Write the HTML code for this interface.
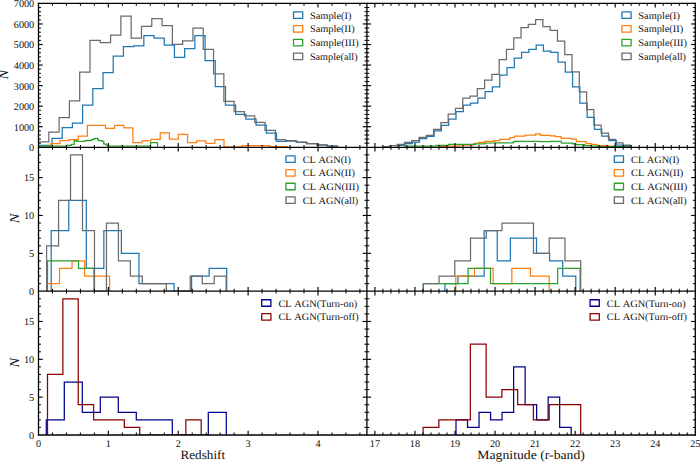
<!DOCTYPE html>
<html><head><meta charset="utf-8"><title>Histograms</title>
<style>
html,body{margin:0;padding:0;background:#fff;overflow:hidden;}
body{width:700px;height:463px;}
svg{display:block;font-family:"Liberation Serif", serif;text-rendering:geometricPrecision;}
</style></head><body>
<svg width="700" height="463" viewBox="0 0 700 463">
<defs><clipPath id="cL0"><rect x="38.5" y="3.4" width="328.4" height="143.9"/></clipPath><clipPath id="cR0"><rect x="366.9" y="3.4" width="328.4" height="143.9"/></clipPath><clipPath id="cL1"><rect x="38.5" y="147.3" width="328.4" height="143.9"/></clipPath><clipPath id="cR1"><rect x="366.9" y="147.3" width="328.4" height="143.9"/></clipPath><clipPath id="cL2"><rect x="38.5" y="291.2" width="328.4" height="143.8"/></clipPath><clipPath id="cR2"><rect x="366.9" y="291.2" width="328.4" height="143.8"/></clipPath></defs>
<rect x="0" y="0" width="700" height="463" fill="#fff"/>
<g><polyline points="31.59,147.3 31.59,145.3 41.8,145.3 41.8,145.3 52,145.3 52,138.3 62.2,138.3 62.2,127.5 72.41,127.5 72.41,123.1 82.61,123.1 82.61,105.1 92.82,105.1 92.82,88.5 103.02,88.5 103.02,72.6 113.22,72.6 113.22,56.1 123.43,56.1 123.43,46.5 133.63,46.5 133.63,45.8 143.84,45.8 143.84,35.7 154.04,35.7 154.04,38 164.24,38 164.24,45 174.45,45 174.45,57.4 184.65,57.4 184.65,48.6 194.86,48.6 194.86,35.7 205.06,35.7 205.06,60.7 215.26,60.7 215.26,86.6 225.47,86.6 225.47,105.1 235.67,105.1 235.67,114.4 245.88,114.4 245.88,119.2 256.08,119.2 256.08,125.2 266.28,125.2 266.28,133.2 276.49,133.2 276.49,141.3 286.69,141.3 286.69,141 296.9,141 296.9,142.4 307.1,142.4 307.1,143.6 317.3,143.6 317.3,145 327.51,145 327.51,146.1 337.71,146.1 337.71,147.3" fill="none" stroke="#1f77b4" stroke-width="1.25" stroke-linejoin="miter" clip-path="url(#cL0)"/>
<polyline points="41.8,147.3 41.8,147.3 50.91,147.3 50.91,143.6 60.02,143.6 60.02,140.5 69.13,140.5 69.13,139.5 78.24,139.5 78.24,136 87.35,136 87.35,125.4 96.46,125.4 96.46,125.4 105.57,125.4 105.57,128.3 114.68,128.3 114.68,125.4 123.79,125.4 123.79,127.9 132.9,127.9 132.9,142.6 142.01,142.6 142.01,140.8 151.12,140.8 151.12,139.3 160.23,139.3 160.23,132.8 169.34,132.8 169.34,139.2 178.45,139.2 178.45,134.3 187.56,134.3 187.56,142.5 196.67,142.5 196.67,140.8 205.78,140.8 205.78,143.4 214.89,143.4 214.89,139.7 224,139.7 224,146.8 233.11,146.8 233.11,146.8 242.22,146.8 242.22,145.6 251.33,145.6 251.33,145.6 260.44,145.6 260.44,145.6 269.55,145.6 269.55,146.5 278.66,146.5 278.66,146.5 287.77,146.5 287.77,147.3" fill="none" stroke="#ff7f0e" stroke-width="1.25" stroke-linejoin="miter" clip-path="url(#cL0)"/>
<polyline points="38.5,146 66.5,146 66.5,145.4 71.2,145.4 71.2,144.3 74.2,144.3 74.2,140.7 76.6,140.7 76.6,141.3 84,141.3 84,141.1 85.7,141.1 85.7,140.4 87.4,140.4 87.4,140.6 91.3,140.6 91.3,139.8 92.6,139.8 92.6,139.4 94.3,139.4 94.3,138.5 95.1,138.5 95.1,138.3 97.7,138.3 97.7,139.6 98.6,139.6 98.6,140.6 102,140.6 102,141.3 103.7,141.3 103.7,143.6 104.1,143.6 104.1,144.1 106.3,144.1 106.3,145.1 108,145.1 108,146 150.6,146 150.6,142.5 157.5,142.5 157.5,147.3" fill="none" stroke="#2ca02c" stroke-width="1.25" stroke-linejoin="miter" clip-path="url(#cL0)"/>
<polyline points="38.5,147.3 38.5,141.9 48.8,141.9 48.8,132.2 59.09,132.2 59.09,117.6 69.39,117.6 69.39,100.8 79.69,100.8 79.69,72.2 89.98,72.2 89.98,40.4 100.28,40.4 100.28,42.6 110.58,42.6 110.58,35.2 120.88,35.2 120.88,16.2 131.17,16.2 131.17,38 141.47,38 141.47,26.4 151.77,26.4 151.77,18.6 162.06,18.6 162.06,25.7 172.36,25.7 172.36,44.4 182.66,44.4 182.66,40.8 192.96,40.8 192.96,28.1 203.25,28.1 203.25,49.3 213.55,49.3 213.55,73.9 223.85,73.9 223.85,101.4 234.14,101.4 234.14,111.6 244.44,111.6 244.44,115.9 254.74,115.9 254.74,122.4 265.03,122.4 265.03,130.4 275.33,130.4 275.33,139.5 285.63,139.5 285.63,140.5 295.93,140.5 295.93,142.2 306.22,142.2 306.22,143.6 316.52,143.6 316.52,144.8 326.82,144.8 326.82,146 337.11,146 337.11,147.3" fill="none" stroke="#6b6b6b" stroke-width="1.25" stroke-linejoin="miter" clip-path="url(#cL0)"/>
<polyline points="397.7,147.3 397.7,145.3 404.99,145.3 404.99,143.6 412.27,143.6 412.27,142.1 419.56,142.1 419.56,138.6 426.85,138.6 426.85,136.4 434.13,136.4 434.13,130.8 441.42,130.8 441.42,125.4 448.71,125.4 448.71,119.1 456,119.1 456,111.6 463.28,111.6 463.28,105.1 470.57,105.1 470.57,103 477.86,103 477.86,98 485.14,98 485.14,91.7 492.43,91.7 492.43,86.9 499.72,86.9 499.72,75.2 507,75.2 507,67.5 514.29,67.5 514.29,58 521.58,58 521.58,52.4 528.87,52.4 528.87,49.3 536.15,49.3 536.15,45 543.44,45 543.44,51.2 550.73,51.2 550.73,52.3 558.01,52.3 558.01,62.2 565.3,62.2 565.3,72 572.59,72 572.59,86.9 579.88,86.9 579.88,103.1 587.16,103.1 587.16,117.4 594.45,117.4 594.45,129.3 601.74,129.3 601.74,136 609.02,136 609.02,140.7 616.31,140.7 616.31,145.2 623.6,145.2 623.6,145.7 630.88,145.7 630.88,147.3" fill="none" stroke="#1f77b4" stroke-width="1.25" stroke-linejoin="miter" clip-path="url(#cR0)"/>
<polyline points="438.6,147.3 438.6,146.4 447.1,146.4 447.1,146.2 459.1,146.2 459.1,145.2 473.7,145.2 473.7,143.5 478.8,143.1 478.8,142.3 484.8,142.3 484.8,141.3 494.4,141.3 494.4,140.5 499.6,140.5 499.6,139.4 509.9,139.4 509.9,137.7 514.6,137.7 514.6,136 525.3,136 525.3,135.1 535.6,135.1 535.6,133.9 540.6,133.9 540.6,135.3 550.3,135.3 550.3,135.9 555.4,135.9 555.4,136.6 561,136.6 561,138.3 571.7,138.3 571.7,139.1 576.4,139.1 576.4,141.7 586.2,141.7 586.2,143.5 591.2,143.5 591.2,144.4 597,144.4 597,145.7 608.1,145.7 608.1,146.1 615.8,146.1 615.8,146.6 630,146.6 630,147.3" fill="none" stroke="#ff7f0e" stroke-width="1.25" stroke-linejoin="miter" clip-path="url(#cR0)"/>
<polyline points="405,147.3 405,146 436,146 436,145.3 448.4,145.3 448.4,144.4 460,144.4 460,144.3 475.4,144.3 475.4,143.9 485,143.9 485,143.2 494.4,143 494.4,142.8 513.3,142.8 513.3,141.8 514.6,141.8 514.6,141.4 540,141.4 540,141.7 550.3,141.7 550.3,141.3 561.4,141.3 561.4,143 572.6,143 572.6,143.9 576,143.9 576,144.7 584.6,144.7 584.6,145.6 591.4,145.6 591.4,146.1 600,146.1 600,146.6 630,146.6 630,147.3" fill="none" stroke="#2ca02c" stroke-width="1.25" stroke-linejoin="miter" clip-path="url(#cR0)"/>
<polyline points="382.61,147.3 382.61,146.6 389.9,146.6 389.9,145.7 397.18,145.7 397.18,144.3 404.47,144.3 404.47,142.4 411.75,142.4 411.75,140.7 419.04,140.7 419.04,137.4 426.32,137.4 426.32,135.4 433.61,135.4 433.61,129.4 440.89,129.4 440.89,122.6 448.18,122.6 448.18,114.2 455.46,114.2 455.46,108.4 462.75,108.4 462.75,98.2 470.03,98.2 470.03,96.1 477.32,96.1 477.32,88.5 484.6,88.5 484.6,80.2 491.89,80.2 491.89,74.4 499.17,74.4 499.17,59.5 506.46,59.5 506.46,49.3 513.74,49.3 513.74,37.8 521.03,37.8 521.03,27.7 528.31,27.7 528.31,24.4 535.6,24.4 535.6,19.5 542.88,19.5 542.88,26.6 550.17,26.6 550.17,30.3 557.45,30.3 557.45,41.1 564.74,41.1 564.74,54.5 572.02,54.5 572.02,71.8 579.31,71.8 579.31,91.9 586.6,91.9 586.6,109.7 593.88,109.7 593.88,125 601.16,125 601.16,133.1 608.45,133.1 608.45,139.3 615.73,139.3 615.73,142.9 623.02,142.9 623.02,145 630.3,145 630.3,147.3" fill="none" stroke="#6b6b6b" stroke-width="1.25" stroke-linejoin="miter" clip-path="url(#cR0)"/>
<polyline points="51.2,291.2 51.2,230.61 68.75,230.61 68.75,200.32 86.3,200.32 86.3,268.48 103.85,268.48 103.85,230.61 121.4,230.61 121.4,253.33 138.95,253.33 138.95,283.63 156.5,283.63 156.5,283.63 174.05,283.63 174.05,291.2 191.6,291.2 191.6,276.05 209.15,276.05 209.15,268.48 226.7,268.48 226.7,291.2" fill="none" stroke="#1f77b4" stroke-width="1.25" stroke-linejoin="miter" clip-path="url(#cL1)"/>
<polyline points="47,291.2 47,283.63 59.52,283.63 59.52,268.48 72.04,268.48 72.04,260.91 84.56,260.91 84.56,276.05 97.08,276.05 97.08,276.05 109.6,276.05 109.6,291.2" fill="none" stroke="#ff7f0e" stroke-width="1.25" stroke-linejoin="miter" clip-path="url(#cL1)"/>
<polyline points="47.5,291.2 47.5,260.91 63,260.91 63,260.91 78.5,260.91 78.5,268.48 94,268.48 94,291.2" fill="none" stroke="#2ca02c" stroke-width="1.25" stroke-linejoin="miter" clip-path="url(#cL1)"/>
<polyline points="46.6,291.2 46.6,245.76 58.57,245.76 58.57,200.32 70.54,200.32 70.54,154.87 82.51,154.87 82.51,230.61 94.48,230.61 94.48,291.2 106.45,291.2 106.45,223.04 118.42,223.04 118.42,260.91 130.39,260.91 130.39,276.05 142.36,276.05 142.36,283.63 154.33,283.63 154.33,283.63 166.3,283.63 166.3,291.2 178.27,291.2 178.27,291.2 190.24,291.2 190.24,276.05 202.21,276.05 202.21,283.63 214.18,283.63 214.18,276.05 226.15,276.05 226.15,291.2" fill="none" stroke="#6b6b6b" stroke-width="1.25" stroke-linejoin="miter" clip-path="url(#cL1)"/>
<polyline points="444.9,291.2 444.9,283.63 457.99,283.63 457.99,276.05 471.08,276.05 471.08,276.05 484.17,276.05 484.17,230.61 497.26,230.61 497.26,260.91 510.35,260.91 510.35,238.18 523.44,238.18 523.44,238.18 536.53,238.18 536.53,253.33 549.62,253.33 549.62,260.91 562.71,260.91 562.71,276.05 575.8,276.05 575.8,291.2" fill="none" stroke="#1f77b4" stroke-width="1.25" stroke-linejoin="miter" clip-path="url(#cR1)"/>
<polyline points="455.8,291.2 455.8,276.05 474.48,276.05 474.48,268.48 493.16,268.48 493.16,283.63 511.84,283.63 511.84,268.48 530.52,268.48 530.52,276.05 549.2,276.05 549.2,291.2" fill="none" stroke="#ff7f0e" stroke-width="1.25" stroke-linejoin="miter" clip-path="url(#cR1)"/>
<polyline points="423.3,291.2 423.3,283.63 445.7,283.63 445.7,283.63 468.1,283.63 468.1,268.48 490.5,268.48 490.5,283.63 512.9,283.63 512.9,283.63 535.3,283.63 535.3,283.63 557.7,283.63 557.7,268.48 580.1,268.48 580.1,291.2" fill="none" stroke="#2ca02c" stroke-width="1.25" stroke-linejoin="miter" clip-path="url(#cR1)"/>
<polyline points="423.3,291.2 423.3,283.63 439.04,283.63 439.04,276.05 454.78,276.05 454.78,260.91 470.52,260.91 470.52,238.18 486.26,238.18 486.26,230.61 502,230.61 502,223.04 517.74,223.04 517.74,223.04 533.48,223.04 533.48,253.33 549.22,253.33 549.22,238.18 564.96,238.18 564.96,260.91 580.7,260.91 580.7,291.2" fill="none" stroke="#6b6b6b" stroke-width="1.25" stroke-linejoin="miter" clip-path="url(#cR1)"/>
<polyline points="46.3,435 46.3,419.86 64.3,419.86 64.3,382.02 82.3,382.02 82.3,412.29 100.3,412.29 100.3,397.16 118.3,397.16 118.3,412.29 136.3,412.29 136.3,419.86 154.3,419.86 154.3,419.86 172.3,419.86 172.3,435 190.3,435 190.3,435 208.3,435 208.3,412.29 226.3,412.29 226.3,435" fill="none" stroke="#00008b" stroke-width="1.25" stroke-linejoin="miter" clip-path="url(#cL2)"/>
<polyline points="47.5,435 47.5,374.45 62.87,374.45 62.87,298.77 78.24,298.77 78.24,404.73 93.61,404.73 93.61,419.86 108.98,419.86 108.98,419.86 124.35,419.86 124.35,427.43 139.72,427.43 139.72,435 155.09,435 155.09,435 170.46,435 170.46,435 185.83,435 185.83,419.86 201.2,419.86 201.2,435" fill="none" stroke="#8b0000" stroke-width="1.25" stroke-linejoin="miter" clip-path="url(#cL2)"/>
<polyline points="456,435 456,419.86 467.52,419.86 467.52,427.43 479.04,427.43 479.04,412.29 490.56,412.29 490.56,419.86 502.08,419.86 502.08,412.29 513.6,412.29 513.6,366.88 525.12,366.88 525.12,404.73 536.64,404.73 536.64,419.86 548.16,419.86 548.16,397.16 559.68,397.16 559.68,427.43 571.2,427.43 571.2,435" fill="none" stroke="#00008b" stroke-width="1.25" stroke-linejoin="miter" clip-path="url(#cR2)"/>
<polyline points="423.1,435 423.1,427.43 438.86,427.43 438.86,419.86 454.62,419.86 454.62,419.86 470.38,419.86 470.38,344.18 486.14,344.18 486.14,397.16 501.9,397.16 501.9,389.59 517.66,389.59 517.66,404.73 533.42,404.73 533.42,419.86 549.18,419.86 549.18,404.73 564.94,404.73 564.94,404.73 580.7,404.73 580.7,435" fill="none" stroke="#8b0000" stroke-width="1.25" stroke-linejoin="miter" clip-path="url(#cR2)"/></g>
<g stroke="#000" stroke-linecap="butt"><line x1="52.47" y1="147.3" x2="52.47" y2="144.9" stroke-width="1.05"/>
<line x1="52.47" y1="3.4" x2="52.47" y2="5.8" stroke-width="1.05"/>
<line x1="66.45" y1="147.3" x2="66.45" y2="144.9" stroke-width="1.05"/>
<line x1="66.45" y1="3.4" x2="66.45" y2="5.8" stroke-width="1.05"/>
<line x1="80.42" y1="147.3" x2="80.42" y2="144.9" stroke-width="1.05"/>
<line x1="80.42" y1="3.4" x2="80.42" y2="5.8" stroke-width="1.05"/>
<line x1="94.4" y1="147.3" x2="94.4" y2="144.9" stroke-width="1.05"/>
<line x1="94.4" y1="3.4" x2="94.4" y2="5.8" stroke-width="1.05"/>
<line x1="122.35" y1="147.3" x2="122.35" y2="144.9" stroke-width="1.05"/>
<line x1="122.35" y1="3.4" x2="122.35" y2="5.8" stroke-width="1.05"/>
<line x1="136.32" y1="147.3" x2="136.32" y2="144.9" stroke-width="1.05"/>
<line x1="136.32" y1="3.4" x2="136.32" y2="5.8" stroke-width="1.05"/>
<line x1="150.3" y1="147.3" x2="150.3" y2="144.9" stroke-width="1.05"/>
<line x1="150.3" y1="3.4" x2="150.3" y2="5.8" stroke-width="1.05"/>
<line x1="164.27" y1="147.3" x2="164.27" y2="144.9" stroke-width="1.05"/>
<line x1="164.27" y1="3.4" x2="164.27" y2="5.8" stroke-width="1.05"/>
<line x1="192.22" y1="147.3" x2="192.22" y2="144.9" stroke-width="1.05"/>
<line x1="192.22" y1="3.4" x2="192.22" y2="5.8" stroke-width="1.05"/>
<line x1="206.19" y1="147.3" x2="206.19" y2="144.9" stroke-width="1.05"/>
<line x1="206.19" y1="3.4" x2="206.19" y2="5.8" stroke-width="1.05"/>
<line x1="220.17" y1="147.3" x2="220.17" y2="144.9" stroke-width="1.05"/>
<line x1="220.17" y1="3.4" x2="220.17" y2="5.8" stroke-width="1.05"/>
<line x1="234.14" y1="147.3" x2="234.14" y2="144.9" stroke-width="1.05"/>
<line x1="234.14" y1="3.4" x2="234.14" y2="5.8" stroke-width="1.05"/>
<line x1="262.09" y1="147.3" x2="262.09" y2="144.9" stroke-width="1.05"/>
<line x1="262.09" y1="3.4" x2="262.09" y2="5.8" stroke-width="1.05"/>
<line x1="276.07" y1="147.3" x2="276.07" y2="144.9" stroke-width="1.05"/>
<line x1="276.07" y1="3.4" x2="276.07" y2="5.8" stroke-width="1.05"/>
<line x1="290.04" y1="147.3" x2="290.04" y2="144.9" stroke-width="1.05"/>
<line x1="290.04" y1="3.4" x2="290.04" y2="5.8" stroke-width="1.05"/>
<line x1="304.01" y1="147.3" x2="304.01" y2="144.9" stroke-width="1.05"/>
<line x1="304.01" y1="3.4" x2="304.01" y2="5.8" stroke-width="1.05"/>
<line x1="331.96" y1="147.3" x2="331.96" y2="144.9" stroke-width="1.05"/>
<line x1="331.96" y1="3.4" x2="331.96" y2="5.8" stroke-width="1.05"/>
<line x1="345.94" y1="147.3" x2="345.94" y2="144.9" stroke-width="1.05"/>
<line x1="345.94" y1="3.4" x2="345.94" y2="5.8" stroke-width="1.05"/>
<line x1="359.91" y1="147.3" x2="359.91" y2="144.9" stroke-width="1.05"/>
<line x1="359.91" y1="3.4" x2="359.91" y2="5.8" stroke-width="1.05"/>
<line x1="108.37" y1="147.3" x2="108.37" y2="143.1" stroke-width="1.15"/>
<line x1="108.37" y1="3.4" x2="108.37" y2="7.6" stroke-width="1.15"/>
<line x1="178.24" y1="147.3" x2="178.24" y2="143.1" stroke-width="1.15"/>
<line x1="178.24" y1="3.4" x2="178.24" y2="7.6" stroke-width="1.15"/>
<line x1="248.12" y1="147.3" x2="248.12" y2="143.1" stroke-width="1.15"/>
<line x1="248.12" y1="3.4" x2="248.12" y2="7.6" stroke-width="1.15"/>
<line x1="317.99" y1="147.3" x2="317.99" y2="143.1" stroke-width="1.15"/>
<line x1="317.99" y1="3.4" x2="317.99" y2="7.6" stroke-width="1.15"/>
<line x1="38.5" y1="143.19" x2="40.9" y2="143.19" stroke-width="1.05"/>
<line x1="366.9" y1="143.19" x2="364.5" y2="143.19" stroke-width="1.05"/>
<line x1="38.5" y1="139.08" x2="40.9" y2="139.08" stroke-width="1.05"/>
<line x1="366.9" y1="139.08" x2="364.5" y2="139.08" stroke-width="1.05"/>
<line x1="38.5" y1="134.97" x2="40.9" y2="134.97" stroke-width="1.05"/>
<line x1="366.9" y1="134.97" x2="364.5" y2="134.97" stroke-width="1.05"/>
<line x1="38.5" y1="130.85" x2="40.9" y2="130.85" stroke-width="1.05"/>
<line x1="366.9" y1="130.85" x2="364.5" y2="130.85" stroke-width="1.05"/>
<line x1="38.5" y1="122.63" x2="40.9" y2="122.63" stroke-width="1.05"/>
<line x1="366.9" y1="122.63" x2="364.5" y2="122.63" stroke-width="1.05"/>
<line x1="38.5" y1="118.52" x2="40.9" y2="118.52" stroke-width="1.05"/>
<line x1="366.9" y1="118.52" x2="364.5" y2="118.52" stroke-width="1.05"/>
<line x1="38.5" y1="114.41" x2="40.9" y2="114.41" stroke-width="1.05"/>
<line x1="366.9" y1="114.41" x2="364.5" y2="114.41" stroke-width="1.05"/>
<line x1="38.5" y1="110.3" x2="40.9" y2="110.3" stroke-width="1.05"/>
<line x1="366.9" y1="110.3" x2="364.5" y2="110.3" stroke-width="1.05"/>
<line x1="38.5" y1="102.07" x2="40.9" y2="102.07" stroke-width="1.05"/>
<line x1="366.9" y1="102.07" x2="364.5" y2="102.07" stroke-width="1.05"/>
<line x1="38.5" y1="97.96" x2="40.9" y2="97.96" stroke-width="1.05"/>
<line x1="366.9" y1="97.96" x2="364.5" y2="97.96" stroke-width="1.05"/>
<line x1="38.5" y1="93.85" x2="40.9" y2="93.85" stroke-width="1.05"/>
<line x1="366.9" y1="93.85" x2="364.5" y2="93.85" stroke-width="1.05"/>
<line x1="38.5" y1="89.74" x2="40.9" y2="89.74" stroke-width="1.05"/>
<line x1="366.9" y1="89.74" x2="364.5" y2="89.74" stroke-width="1.05"/>
<line x1="38.5" y1="81.52" x2="40.9" y2="81.52" stroke-width="1.05"/>
<line x1="366.9" y1="81.52" x2="364.5" y2="81.52" stroke-width="1.05"/>
<line x1="38.5" y1="77.41" x2="40.9" y2="77.41" stroke-width="1.05"/>
<line x1="366.9" y1="77.41" x2="364.5" y2="77.41" stroke-width="1.05"/>
<line x1="38.5" y1="73.29" x2="40.9" y2="73.29" stroke-width="1.05"/>
<line x1="366.9" y1="73.29" x2="364.5" y2="73.29" stroke-width="1.05"/>
<line x1="38.5" y1="69.18" x2="40.9" y2="69.18" stroke-width="1.05"/>
<line x1="366.9" y1="69.18" x2="364.5" y2="69.18" stroke-width="1.05"/>
<line x1="38.5" y1="60.96" x2="40.9" y2="60.96" stroke-width="1.05"/>
<line x1="366.9" y1="60.96" x2="364.5" y2="60.96" stroke-width="1.05"/>
<line x1="38.5" y1="56.85" x2="40.9" y2="56.85" stroke-width="1.05"/>
<line x1="366.9" y1="56.85" x2="364.5" y2="56.85" stroke-width="1.05"/>
<line x1="38.5" y1="52.74" x2="40.9" y2="52.74" stroke-width="1.05"/>
<line x1="366.9" y1="52.74" x2="364.5" y2="52.74" stroke-width="1.05"/>
<line x1="38.5" y1="48.63" x2="40.9" y2="48.63" stroke-width="1.05"/>
<line x1="366.9" y1="48.63" x2="364.5" y2="48.63" stroke-width="1.05"/>
<line x1="38.5" y1="40.4" x2="40.9" y2="40.4" stroke-width="1.05"/>
<line x1="366.9" y1="40.4" x2="364.5" y2="40.4" stroke-width="1.05"/>
<line x1="38.5" y1="36.29" x2="40.9" y2="36.29" stroke-width="1.05"/>
<line x1="366.9" y1="36.29" x2="364.5" y2="36.29" stroke-width="1.05"/>
<line x1="38.5" y1="32.18" x2="40.9" y2="32.18" stroke-width="1.05"/>
<line x1="366.9" y1="32.18" x2="364.5" y2="32.18" stroke-width="1.05"/>
<line x1="38.5" y1="28.07" x2="40.9" y2="28.07" stroke-width="1.05"/>
<line x1="366.9" y1="28.07" x2="364.5" y2="28.07" stroke-width="1.05"/>
<line x1="38.5" y1="19.85" x2="40.9" y2="19.85" stroke-width="1.05"/>
<line x1="366.9" y1="19.85" x2="364.5" y2="19.85" stroke-width="1.05"/>
<line x1="38.5" y1="15.73" x2="40.9" y2="15.73" stroke-width="1.05"/>
<line x1="366.9" y1="15.73" x2="364.5" y2="15.73" stroke-width="1.05"/>
<line x1="38.5" y1="11.62" x2="40.9" y2="11.62" stroke-width="1.05"/>
<line x1="366.9" y1="11.62" x2="364.5" y2="11.62" stroke-width="1.05"/>
<line x1="38.5" y1="7.51" x2="40.9" y2="7.51" stroke-width="1.05"/>
<line x1="366.9" y1="7.51" x2="364.5" y2="7.51" stroke-width="1.05"/>
<line x1="38.5" y1="126.74" x2="42.7" y2="126.74" stroke-width="1.15"/>
<line x1="366.9" y1="126.74" x2="362.7" y2="126.74" stroke-width="1.15"/>
<line x1="38.5" y1="106.19" x2="42.7" y2="106.19" stroke-width="1.15"/>
<line x1="366.9" y1="106.19" x2="362.7" y2="106.19" stroke-width="1.15"/>
<line x1="38.5" y1="85.63" x2="42.7" y2="85.63" stroke-width="1.15"/>
<line x1="366.9" y1="85.63" x2="362.7" y2="85.63" stroke-width="1.15"/>
<line x1="38.5" y1="65.07" x2="42.7" y2="65.07" stroke-width="1.15"/>
<line x1="366.9" y1="65.07" x2="362.7" y2="65.07" stroke-width="1.15"/>
<line x1="38.5" y1="44.51" x2="42.7" y2="44.51" stroke-width="1.15"/>
<line x1="366.9" y1="44.51" x2="362.7" y2="44.51" stroke-width="1.15"/>
<line x1="38.5" y1="23.96" x2="42.7" y2="23.96" stroke-width="1.15"/>
<line x1="366.9" y1="23.96" x2="362.7" y2="23.96" stroke-width="1.15"/>
<line x1="382.92" y1="147.3" x2="382.92" y2="144.9" stroke-width="1.05"/>
<line x1="382.92" y1="3.4" x2="382.92" y2="5.8" stroke-width="1.05"/>
<line x1="390.93" y1="147.3" x2="390.93" y2="144.9" stroke-width="1.05"/>
<line x1="390.93" y1="3.4" x2="390.93" y2="5.8" stroke-width="1.05"/>
<line x1="398.94" y1="147.3" x2="398.94" y2="144.9" stroke-width="1.05"/>
<line x1="398.94" y1="3.4" x2="398.94" y2="5.8" stroke-width="1.05"/>
<line x1="406.95" y1="147.3" x2="406.95" y2="144.9" stroke-width="1.05"/>
<line x1="406.95" y1="3.4" x2="406.95" y2="5.8" stroke-width="1.05"/>
<line x1="422.97" y1="147.3" x2="422.97" y2="144.9" stroke-width="1.05"/>
<line x1="422.97" y1="3.4" x2="422.97" y2="5.8" stroke-width="1.05"/>
<line x1="430.98" y1="147.3" x2="430.98" y2="144.9" stroke-width="1.05"/>
<line x1="430.98" y1="3.4" x2="430.98" y2="5.8" stroke-width="1.05"/>
<line x1="438.99" y1="147.3" x2="438.99" y2="144.9" stroke-width="1.05"/>
<line x1="438.99" y1="3.4" x2="438.99" y2="5.8" stroke-width="1.05"/>
<line x1="447" y1="147.3" x2="447" y2="144.9" stroke-width="1.05"/>
<line x1="447" y1="3.4" x2="447" y2="5.8" stroke-width="1.05"/>
<line x1="463.02" y1="147.3" x2="463.02" y2="144.9" stroke-width="1.05"/>
<line x1="463.02" y1="3.4" x2="463.02" y2="5.8" stroke-width="1.05"/>
<line x1="471.03" y1="147.3" x2="471.03" y2="144.9" stroke-width="1.05"/>
<line x1="471.03" y1="3.4" x2="471.03" y2="5.8" stroke-width="1.05"/>
<line x1="479.04" y1="147.3" x2="479.04" y2="144.9" stroke-width="1.05"/>
<line x1="479.04" y1="3.4" x2="479.04" y2="5.8" stroke-width="1.05"/>
<line x1="487.05" y1="147.3" x2="487.05" y2="144.9" stroke-width="1.05"/>
<line x1="487.05" y1="3.4" x2="487.05" y2="5.8" stroke-width="1.05"/>
<line x1="503.07" y1="147.3" x2="503.07" y2="144.9" stroke-width="1.05"/>
<line x1="503.07" y1="3.4" x2="503.07" y2="5.8" stroke-width="1.05"/>
<line x1="511.08" y1="147.3" x2="511.08" y2="144.9" stroke-width="1.05"/>
<line x1="511.08" y1="3.4" x2="511.08" y2="5.8" stroke-width="1.05"/>
<line x1="519.09" y1="147.3" x2="519.09" y2="144.9" stroke-width="1.05"/>
<line x1="519.09" y1="3.4" x2="519.09" y2="5.8" stroke-width="1.05"/>
<line x1="527.1" y1="147.3" x2="527.1" y2="144.9" stroke-width="1.05"/>
<line x1="527.1" y1="3.4" x2="527.1" y2="5.8" stroke-width="1.05"/>
<line x1="543.11" y1="147.3" x2="543.11" y2="144.9" stroke-width="1.05"/>
<line x1="543.11" y1="3.4" x2="543.11" y2="5.8" stroke-width="1.05"/>
<line x1="551.12" y1="147.3" x2="551.12" y2="144.9" stroke-width="1.05"/>
<line x1="551.12" y1="3.4" x2="551.12" y2="5.8" stroke-width="1.05"/>
<line x1="559.13" y1="147.3" x2="559.13" y2="144.9" stroke-width="1.05"/>
<line x1="559.13" y1="3.4" x2="559.13" y2="5.8" stroke-width="1.05"/>
<line x1="567.14" y1="147.3" x2="567.14" y2="144.9" stroke-width="1.05"/>
<line x1="567.14" y1="3.4" x2="567.14" y2="5.8" stroke-width="1.05"/>
<line x1="583.16" y1="147.3" x2="583.16" y2="144.9" stroke-width="1.05"/>
<line x1="583.16" y1="3.4" x2="583.16" y2="5.8" stroke-width="1.05"/>
<line x1="591.17" y1="147.3" x2="591.17" y2="144.9" stroke-width="1.05"/>
<line x1="591.17" y1="3.4" x2="591.17" y2="5.8" stroke-width="1.05"/>
<line x1="599.18" y1="147.3" x2="599.18" y2="144.9" stroke-width="1.05"/>
<line x1="599.18" y1="3.4" x2="599.18" y2="5.8" stroke-width="1.05"/>
<line x1="607.19" y1="147.3" x2="607.19" y2="144.9" stroke-width="1.05"/>
<line x1="607.19" y1="3.4" x2="607.19" y2="5.8" stroke-width="1.05"/>
<line x1="623.21" y1="147.3" x2="623.21" y2="144.9" stroke-width="1.05"/>
<line x1="623.21" y1="3.4" x2="623.21" y2="5.8" stroke-width="1.05"/>
<line x1="631.22" y1="147.3" x2="631.22" y2="144.9" stroke-width="1.05"/>
<line x1="631.22" y1="3.4" x2="631.22" y2="5.8" stroke-width="1.05"/>
<line x1="639.23" y1="147.3" x2="639.23" y2="144.9" stroke-width="1.05"/>
<line x1="639.23" y1="3.4" x2="639.23" y2="5.8" stroke-width="1.05"/>
<line x1="647.24" y1="147.3" x2="647.24" y2="144.9" stroke-width="1.05"/>
<line x1="647.24" y1="3.4" x2="647.24" y2="5.8" stroke-width="1.05"/>
<line x1="663.26" y1="147.3" x2="663.26" y2="144.9" stroke-width="1.05"/>
<line x1="663.26" y1="3.4" x2="663.26" y2="5.8" stroke-width="1.05"/>
<line x1="671.27" y1="147.3" x2="671.27" y2="144.9" stroke-width="1.05"/>
<line x1="671.27" y1="3.4" x2="671.27" y2="5.8" stroke-width="1.05"/>
<line x1="679.28" y1="147.3" x2="679.28" y2="144.9" stroke-width="1.05"/>
<line x1="679.28" y1="3.4" x2="679.28" y2="5.8" stroke-width="1.05"/>
<line x1="687.29" y1="147.3" x2="687.29" y2="144.9" stroke-width="1.05"/>
<line x1="687.29" y1="3.4" x2="687.29" y2="5.8" stroke-width="1.05"/>
<line x1="374.91" y1="147.3" x2="374.91" y2="143.1" stroke-width="1.15"/>
<line x1="374.91" y1="3.4" x2="374.91" y2="7.6" stroke-width="1.15"/>
<line x1="414.96" y1="147.3" x2="414.96" y2="143.1" stroke-width="1.15"/>
<line x1="414.96" y1="3.4" x2="414.96" y2="7.6" stroke-width="1.15"/>
<line x1="455.01" y1="147.3" x2="455.01" y2="143.1" stroke-width="1.15"/>
<line x1="455.01" y1="3.4" x2="455.01" y2="7.6" stroke-width="1.15"/>
<line x1="495.06" y1="147.3" x2="495.06" y2="143.1" stroke-width="1.15"/>
<line x1="495.06" y1="3.4" x2="495.06" y2="7.6" stroke-width="1.15"/>
<line x1="535.1" y1="147.3" x2="535.1" y2="143.1" stroke-width="1.15"/>
<line x1="535.1" y1="3.4" x2="535.1" y2="7.6" stroke-width="1.15"/>
<line x1="575.15" y1="147.3" x2="575.15" y2="143.1" stroke-width="1.15"/>
<line x1="575.15" y1="3.4" x2="575.15" y2="7.6" stroke-width="1.15"/>
<line x1="615.2" y1="147.3" x2="615.2" y2="143.1" stroke-width="1.15"/>
<line x1="615.2" y1="3.4" x2="615.2" y2="7.6" stroke-width="1.15"/>
<line x1="655.25" y1="147.3" x2="655.25" y2="143.1" stroke-width="1.15"/>
<line x1="655.25" y1="3.4" x2="655.25" y2="7.6" stroke-width="1.15"/>
<line x1="366.9" y1="143.19" x2="369.3" y2="143.19" stroke-width="1.05"/>
<line x1="695.3" y1="143.19" x2="692.9" y2="143.19" stroke-width="1.05"/>
<line x1="366.9" y1="139.08" x2="369.3" y2="139.08" stroke-width="1.05"/>
<line x1="695.3" y1="139.08" x2="692.9" y2="139.08" stroke-width="1.05"/>
<line x1="366.9" y1="134.97" x2="369.3" y2="134.97" stroke-width="1.05"/>
<line x1="695.3" y1="134.97" x2="692.9" y2="134.97" stroke-width="1.05"/>
<line x1="366.9" y1="130.85" x2="369.3" y2="130.85" stroke-width="1.05"/>
<line x1="695.3" y1="130.85" x2="692.9" y2="130.85" stroke-width="1.05"/>
<line x1="366.9" y1="122.63" x2="369.3" y2="122.63" stroke-width="1.05"/>
<line x1="695.3" y1="122.63" x2="692.9" y2="122.63" stroke-width="1.05"/>
<line x1="366.9" y1="118.52" x2="369.3" y2="118.52" stroke-width="1.05"/>
<line x1="695.3" y1="118.52" x2="692.9" y2="118.52" stroke-width="1.05"/>
<line x1="366.9" y1="114.41" x2="369.3" y2="114.41" stroke-width="1.05"/>
<line x1="695.3" y1="114.41" x2="692.9" y2="114.41" stroke-width="1.05"/>
<line x1="366.9" y1="110.3" x2="369.3" y2="110.3" stroke-width="1.05"/>
<line x1="695.3" y1="110.3" x2="692.9" y2="110.3" stroke-width="1.05"/>
<line x1="366.9" y1="102.07" x2="369.3" y2="102.07" stroke-width="1.05"/>
<line x1="695.3" y1="102.07" x2="692.9" y2="102.07" stroke-width="1.05"/>
<line x1="366.9" y1="97.96" x2="369.3" y2="97.96" stroke-width="1.05"/>
<line x1="695.3" y1="97.96" x2="692.9" y2="97.96" stroke-width="1.05"/>
<line x1="366.9" y1="93.85" x2="369.3" y2="93.85" stroke-width="1.05"/>
<line x1="695.3" y1="93.85" x2="692.9" y2="93.85" stroke-width="1.05"/>
<line x1="366.9" y1="89.74" x2="369.3" y2="89.74" stroke-width="1.05"/>
<line x1="695.3" y1="89.74" x2="692.9" y2="89.74" stroke-width="1.05"/>
<line x1="366.9" y1="81.52" x2="369.3" y2="81.52" stroke-width="1.05"/>
<line x1="695.3" y1="81.52" x2="692.9" y2="81.52" stroke-width="1.05"/>
<line x1="366.9" y1="77.41" x2="369.3" y2="77.41" stroke-width="1.05"/>
<line x1="695.3" y1="77.41" x2="692.9" y2="77.41" stroke-width="1.05"/>
<line x1="366.9" y1="73.29" x2="369.3" y2="73.29" stroke-width="1.05"/>
<line x1="695.3" y1="73.29" x2="692.9" y2="73.29" stroke-width="1.05"/>
<line x1="366.9" y1="69.18" x2="369.3" y2="69.18" stroke-width="1.05"/>
<line x1="695.3" y1="69.18" x2="692.9" y2="69.18" stroke-width="1.05"/>
<line x1="366.9" y1="60.96" x2="369.3" y2="60.96" stroke-width="1.05"/>
<line x1="695.3" y1="60.96" x2="692.9" y2="60.96" stroke-width="1.05"/>
<line x1="366.9" y1="56.85" x2="369.3" y2="56.85" stroke-width="1.05"/>
<line x1="695.3" y1="56.85" x2="692.9" y2="56.85" stroke-width="1.05"/>
<line x1="366.9" y1="52.74" x2="369.3" y2="52.74" stroke-width="1.05"/>
<line x1="695.3" y1="52.74" x2="692.9" y2="52.74" stroke-width="1.05"/>
<line x1="366.9" y1="48.63" x2="369.3" y2="48.63" stroke-width="1.05"/>
<line x1="695.3" y1="48.63" x2="692.9" y2="48.63" stroke-width="1.05"/>
<line x1="366.9" y1="40.4" x2="369.3" y2="40.4" stroke-width="1.05"/>
<line x1="695.3" y1="40.4" x2="692.9" y2="40.4" stroke-width="1.05"/>
<line x1="366.9" y1="36.29" x2="369.3" y2="36.29" stroke-width="1.05"/>
<line x1="695.3" y1="36.29" x2="692.9" y2="36.29" stroke-width="1.05"/>
<line x1="366.9" y1="32.18" x2="369.3" y2="32.18" stroke-width="1.05"/>
<line x1="695.3" y1="32.18" x2="692.9" y2="32.18" stroke-width="1.05"/>
<line x1="366.9" y1="28.07" x2="369.3" y2="28.07" stroke-width="1.05"/>
<line x1="695.3" y1="28.07" x2="692.9" y2="28.07" stroke-width="1.05"/>
<line x1="366.9" y1="19.85" x2="369.3" y2="19.85" stroke-width="1.05"/>
<line x1="695.3" y1="19.85" x2="692.9" y2="19.85" stroke-width="1.05"/>
<line x1="366.9" y1="15.73" x2="369.3" y2="15.73" stroke-width="1.05"/>
<line x1="695.3" y1="15.73" x2="692.9" y2="15.73" stroke-width="1.05"/>
<line x1="366.9" y1="11.62" x2="369.3" y2="11.62" stroke-width="1.05"/>
<line x1="695.3" y1="11.62" x2="692.9" y2="11.62" stroke-width="1.05"/>
<line x1="366.9" y1="7.51" x2="369.3" y2="7.51" stroke-width="1.05"/>
<line x1="695.3" y1="7.51" x2="692.9" y2="7.51" stroke-width="1.05"/>
<line x1="366.9" y1="126.74" x2="371.1" y2="126.74" stroke-width="1.15"/>
<line x1="695.3" y1="126.74" x2="691.1" y2="126.74" stroke-width="1.15"/>
<line x1="366.9" y1="106.19" x2="371.1" y2="106.19" stroke-width="1.15"/>
<line x1="695.3" y1="106.19" x2="691.1" y2="106.19" stroke-width="1.15"/>
<line x1="366.9" y1="85.63" x2="371.1" y2="85.63" stroke-width="1.15"/>
<line x1="695.3" y1="85.63" x2="691.1" y2="85.63" stroke-width="1.15"/>
<line x1="366.9" y1="65.07" x2="371.1" y2="65.07" stroke-width="1.15"/>
<line x1="695.3" y1="65.07" x2="691.1" y2="65.07" stroke-width="1.15"/>
<line x1="366.9" y1="44.51" x2="371.1" y2="44.51" stroke-width="1.15"/>
<line x1="695.3" y1="44.51" x2="691.1" y2="44.51" stroke-width="1.15"/>
<line x1="366.9" y1="23.96" x2="371.1" y2="23.96" stroke-width="1.15"/>
<line x1="695.3" y1="23.96" x2="691.1" y2="23.96" stroke-width="1.15"/>
<line x1="52.47" y1="291.2" x2="52.47" y2="288.8" stroke-width="1.05"/>
<line x1="52.47" y1="147.3" x2="52.47" y2="149.7" stroke-width="1.05"/>
<line x1="66.45" y1="291.2" x2="66.45" y2="288.8" stroke-width="1.05"/>
<line x1="66.45" y1="147.3" x2="66.45" y2="149.7" stroke-width="1.05"/>
<line x1="80.42" y1="291.2" x2="80.42" y2="288.8" stroke-width="1.05"/>
<line x1="80.42" y1="147.3" x2="80.42" y2="149.7" stroke-width="1.05"/>
<line x1="94.4" y1="291.2" x2="94.4" y2="288.8" stroke-width="1.05"/>
<line x1="94.4" y1="147.3" x2="94.4" y2="149.7" stroke-width="1.05"/>
<line x1="122.35" y1="291.2" x2="122.35" y2="288.8" stroke-width="1.05"/>
<line x1="122.35" y1="147.3" x2="122.35" y2="149.7" stroke-width="1.05"/>
<line x1="136.32" y1="291.2" x2="136.32" y2="288.8" stroke-width="1.05"/>
<line x1="136.32" y1="147.3" x2="136.32" y2="149.7" stroke-width="1.05"/>
<line x1="150.3" y1="291.2" x2="150.3" y2="288.8" stroke-width="1.05"/>
<line x1="150.3" y1="147.3" x2="150.3" y2="149.7" stroke-width="1.05"/>
<line x1="164.27" y1="291.2" x2="164.27" y2="288.8" stroke-width="1.05"/>
<line x1="164.27" y1="147.3" x2="164.27" y2="149.7" stroke-width="1.05"/>
<line x1="192.22" y1="291.2" x2="192.22" y2="288.8" stroke-width="1.05"/>
<line x1="192.22" y1="147.3" x2="192.22" y2="149.7" stroke-width="1.05"/>
<line x1="206.19" y1="291.2" x2="206.19" y2="288.8" stroke-width="1.05"/>
<line x1="206.19" y1="147.3" x2="206.19" y2="149.7" stroke-width="1.05"/>
<line x1="220.17" y1="291.2" x2="220.17" y2="288.8" stroke-width="1.05"/>
<line x1="220.17" y1="147.3" x2="220.17" y2="149.7" stroke-width="1.05"/>
<line x1="234.14" y1="291.2" x2="234.14" y2="288.8" stroke-width="1.05"/>
<line x1="234.14" y1="147.3" x2="234.14" y2="149.7" stroke-width="1.05"/>
<line x1="262.09" y1="291.2" x2="262.09" y2="288.8" stroke-width="1.05"/>
<line x1="262.09" y1="147.3" x2="262.09" y2="149.7" stroke-width="1.05"/>
<line x1="276.07" y1="291.2" x2="276.07" y2="288.8" stroke-width="1.05"/>
<line x1="276.07" y1="147.3" x2="276.07" y2="149.7" stroke-width="1.05"/>
<line x1="290.04" y1="291.2" x2="290.04" y2="288.8" stroke-width="1.05"/>
<line x1="290.04" y1="147.3" x2="290.04" y2="149.7" stroke-width="1.05"/>
<line x1="304.01" y1="291.2" x2="304.01" y2="288.8" stroke-width="1.05"/>
<line x1="304.01" y1="147.3" x2="304.01" y2="149.7" stroke-width="1.05"/>
<line x1="331.96" y1="291.2" x2="331.96" y2="288.8" stroke-width="1.05"/>
<line x1="331.96" y1="147.3" x2="331.96" y2="149.7" stroke-width="1.05"/>
<line x1="345.94" y1="291.2" x2="345.94" y2="288.8" stroke-width="1.05"/>
<line x1="345.94" y1="147.3" x2="345.94" y2="149.7" stroke-width="1.05"/>
<line x1="359.91" y1="291.2" x2="359.91" y2="288.8" stroke-width="1.05"/>
<line x1="359.91" y1="147.3" x2="359.91" y2="149.7" stroke-width="1.05"/>
<line x1="108.37" y1="291.2" x2="108.37" y2="287" stroke-width="1.15"/>
<line x1="108.37" y1="147.3" x2="108.37" y2="151.5" stroke-width="1.15"/>
<line x1="178.24" y1="291.2" x2="178.24" y2="287" stroke-width="1.15"/>
<line x1="178.24" y1="147.3" x2="178.24" y2="151.5" stroke-width="1.15"/>
<line x1="248.12" y1="291.2" x2="248.12" y2="287" stroke-width="1.15"/>
<line x1="248.12" y1="147.3" x2="248.12" y2="151.5" stroke-width="1.15"/>
<line x1="317.99" y1="291.2" x2="317.99" y2="287" stroke-width="1.15"/>
<line x1="317.99" y1="147.3" x2="317.99" y2="151.5" stroke-width="1.15"/>
<line x1="38.5" y1="283.63" x2="40.9" y2="283.63" stroke-width="1.05"/>
<line x1="366.9" y1="283.63" x2="364.5" y2="283.63" stroke-width="1.05"/>
<line x1="38.5" y1="276.05" x2="40.9" y2="276.05" stroke-width="1.05"/>
<line x1="366.9" y1="276.05" x2="364.5" y2="276.05" stroke-width="1.05"/>
<line x1="38.5" y1="268.48" x2="40.9" y2="268.48" stroke-width="1.05"/>
<line x1="366.9" y1="268.48" x2="364.5" y2="268.48" stroke-width="1.05"/>
<line x1="38.5" y1="260.91" x2="40.9" y2="260.91" stroke-width="1.05"/>
<line x1="366.9" y1="260.91" x2="364.5" y2="260.91" stroke-width="1.05"/>
<line x1="38.5" y1="245.76" x2="40.9" y2="245.76" stroke-width="1.05"/>
<line x1="366.9" y1="245.76" x2="364.5" y2="245.76" stroke-width="1.05"/>
<line x1="38.5" y1="238.18" x2="40.9" y2="238.18" stroke-width="1.05"/>
<line x1="366.9" y1="238.18" x2="364.5" y2="238.18" stroke-width="1.05"/>
<line x1="38.5" y1="230.61" x2="40.9" y2="230.61" stroke-width="1.05"/>
<line x1="366.9" y1="230.61" x2="364.5" y2="230.61" stroke-width="1.05"/>
<line x1="38.5" y1="223.04" x2="40.9" y2="223.04" stroke-width="1.05"/>
<line x1="366.9" y1="223.04" x2="364.5" y2="223.04" stroke-width="1.05"/>
<line x1="38.5" y1="207.89" x2="40.9" y2="207.89" stroke-width="1.05"/>
<line x1="366.9" y1="207.89" x2="364.5" y2="207.89" stroke-width="1.05"/>
<line x1="38.5" y1="200.32" x2="40.9" y2="200.32" stroke-width="1.05"/>
<line x1="366.9" y1="200.32" x2="364.5" y2="200.32" stroke-width="1.05"/>
<line x1="38.5" y1="192.74" x2="40.9" y2="192.74" stroke-width="1.05"/>
<line x1="366.9" y1="192.74" x2="364.5" y2="192.74" stroke-width="1.05"/>
<line x1="38.5" y1="185.17" x2="40.9" y2="185.17" stroke-width="1.05"/>
<line x1="366.9" y1="185.17" x2="364.5" y2="185.17" stroke-width="1.05"/>
<line x1="38.5" y1="170.02" x2="40.9" y2="170.02" stroke-width="1.05"/>
<line x1="366.9" y1="170.02" x2="364.5" y2="170.02" stroke-width="1.05"/>
<line x1="38.5" y1="162.45" x2="40.9" y2="162.45" stroke-width="1.05"/>
<line x1="366.9" y1="162.45" x2="364.5" y2="162.45" stroke-width="1.05"/>
<line x1="38.5" y1="154.87" x2="40.9" y2="154.87" stroke-width="1.05"/>
<line x1="366.9" y1="154.87" x2="364.5" y2="154.87" stroke-width="1.05"/>
<line x1="38.5" y1="253.33" x2="42.7" y2="253.33" stroke-width="1.15"/>
<line x1="366.9" y1="253.33" x2="362.7" y2="253.33" stroke-width="1.15"/>
<line x1="38.5" y1="215.46" x2="42.7" y2="215.46" stroke-width="1.15"/>
<line x1="366.9" y1="215.46" x2="362.7" y2="215.46" stroke-width="1.15"/>
<line x1="38.5" y1="177.59" x2="42.7" y2="177.59" stroke-width="1.15"/>
<line x1="366.9" y1="177.59" x2="362.7" y2="177.59" stroke-width="1.15"/>
<line x1="382.92" y1="291.2" x2="382.92" y2="288.8" stroke-width="1.05"/>
<line x1="382.92" y1="147.3" x2="382.92" y2="149.7" stroke-width="1.05"/>
<line x1="390.93" y1="291.2" x2="390.93" y2="288.8" stroke-width="1.05"/>
<line x1="390.93" y1="147.3" x2="390.93" y2="149.7" stroke-width="1.05"/>
<line x1="398.94" y1="291.2" x2="398.94" y2="288.8" stroke-width="1.05"/>
<line x1="398.94" y1="147.3" x2="398.94" y2="149.7" stroke-width="1.05"/>
<line x1="406.95" y1="291.2" x2="406.95" y2="288.8" stroke-width="1.05"/>
<line x1="406.95" y1="147.3" x2="406.95" y2="149.7" stroke-width="1.05"/>
<line x1="422.97" y1="291.2" x2="422.97" y2="288.8" stroke-width="1.05"/>
<line x1="422.97" y1="147.3" x2="422.97" y2="149.7" stroke-width="1.05"/>
<line x1="430.98" y1="291.2" x2="430.98" y2="288.8" stroke-width="1.05"/>
<line x1="430.98" y1="147.3" x2="430.98" y2="149.7" stroke-width="1.05"/>
<line x1="438.99" y1="291.2" x2="438.99" y2="288.8" stroke-width="1.05"/>
<line x1="438.99" y1="147.3" x2="438.99" y2="149.7" stroke-width="1.05"/>
<line x1="447" y1="291.2" x2="447" y2="288.8" stroke-width="1.05"/>
<line x1="447" y1="147.3" x2="447" y2="149.7" stroke-width="1.05"/>
<line x1="463.02" y1="291.2" x2="463.02" y2="288.8" stroke-width="1.05"/>
<line x1="463.02" y1="147.3" x2="463.02" y2="149.7" stroke-width="1.05"/>
<line x1="471.03" y1="291.2" x2="471.03" y2="288.8" stroke-width="1.05"/>
<line x1="471.03" y1="147.3" x2="471.03" y2="149.7" stroke-width="1.05"/>
<line x1="479.04" y1="291.2" x2="479.04" y2="288.8" stroke-width="1.05"/>
<line x1="479.04" y1="147.3" x2="479.04" y2="149.7" stroke-width="1.05"/>
<line x1="487.05" y1="291.2" x2="487.05" y2="288.8" stroke-width="1.05"/>
<line x1="487.05" y1="147.3" x2="487.05" y2="149.7" stroke-width="1.05"/>
<line x1="503.07" y1="291.2" x2="503.07" y2="288.8" stroke-width="1.05"/>
<line x1="503.07" y1="147.3" x2="503.07" y2="149.7" stroke-width="1.05"/>
<line x1="511.08" y1="291.2" x2="511.08" y2="288.8" stroke-width="1.05"/>
<line x1="511.08" y1="147.3" x2="511.08" y2="149.7" stroke-width="1.05"/>
<line x1="519.09" y1="291.2" x2="519.09" y2="288.8" stroke-width="1.05"/>
<line x1="519.09" y1="147.3" x2="519.09" y2="149.7" stroke-width="1.05"/>
<line x1="527.1" y1="291.2" x2="527.1" y2="288.8" stroke-width="1.05"/>
<line x1="527.1" y1="147.3" x2="527.1" y2="149.7" stroke-width="1.05"/>
<line x1="543.11" y1="291.2" x2="543.11" y2="288.8" stroke-width="1.05"/>
<line x1="543.11" y1="147.3" x2="543.11" y2="149.7" stroke-width="1.05"/>
<line x1="551.12" y1="291.2" x2="551.12" y2="288.8" stroke-width="1.05"/>
<line x1="551.12" y1="147.3" x2="551.12" y2="149.7" stroke-width="1.05"/>
<line x1="559.13" y1="291.2" x2="559.13" y2="288.8" stroke-width="1.05"/>
<line x1="559.13" y1="147.3" x2="559.13" y2="149.7" stroke-width="1.05"/>
<line x1="567.14" y1="291.2" x2="567.14" y2="288.8" stroke-width="1.05"/>
<line x1="567.14" y1="147.3" x2="567.14" y2="149.7" stroke-width="1.05"/>
<line x1="583.16" y1="291.2" x2="583.16" y2="288.8" stroke-width="1.05"/>
<line x1="583.16" y1="147.3" x2="583.16" y2="149.7" stroke-width="1.05"/>
<line x1="591.17" y1="291.2" x2="591.17" y2="288.8" stroke-width="1.05"/>
<line x1="591.17" y1="147.3" x2="591.17" y2="149.7" stroke-width="1.05"/>
<line x1="599.18" y1="291.2" x2="599.18" y2="288.8" stroke-width="1.05"/>
<line x1="599.18" y1="147.3" x2="599.18" y2="149.7" stroke-width="1.05"/>
<line x1="607.19" y1="291.2" x2="607.19" y2="288.8" stroke-width="1.05"/>
<line x1="607.19" y1="147.3" x2="607.19" y2="149.7" stroke-width="1.05"/>
<line x1="623.21" y1="291.2" x2="623.21" y2="288.8" stroke-width="1.05"/>
<line x1="623.21" y1="147.3" x2="623.21" y2="149.7" stroke-width="1.05"/>
<line x1="631.22" y1="291.2" x2="631.22" y2="288.8" stroke-width="1.05"/>
<line x1="631.22" y1="147.3" x2="631.22" y2="149.7" stroke-width="1.05"/>
<line x1="639.23" y1="291.2" x2="639.23" y2="288.8" stroke-width="1.05"/>
<line x1="639.23" y1="147.3" x2="639.23" y2="149.7" stroke-width="1.05"/>
<line x1="647.24" y1="291.2" x2="647.24" y2="288.8" stroke-width="1.05"/>
<line x1="647.24" y1="147.3" x2="647.24" y2="149.7" stroke-width="1.05"/>
<line x1="663.26" y1="291.2" x2="663.26" y2="288.8" stroke-width="1.05"/>
<line x1="663.26" y1="147.3" x2="663.26" y2="149.7" stroke-width="1.05"/>
<line x1="671.27" y1="291.2" x2="671.27" y2="288.8" stroke-width="1.05"/>
<line x1="671.27" y1="147.3" x2="671.27" y2="149.7" stroke-width="1.05"/>
<line x1="679.28" y1="291.2" x2="679.28" y2="288.8" stroke-width="1.05"/>
<line x1="679.28" y1="147.3" x2="679.28" y2="149.7" stroke-width="1.05"/>
<line x1="687.29" y1="291.2" x2="687.29" y2="288.8" stroke-width="1.05"/>
<line x1="687.29" y1="147.3" x2="687.29" y2="149.7" stroke-width="1.05"/>
<line x1="374.91" y1="291.2" x2="374.91" y2="287" stroke-width="1.15"/>
<line x1="374.91" y1="147.3" x2="374.91" y2="151.5" stroke-width="1.15"/>
<line x1="414.96" y1="291.2" x2="414.96" y2="287" stroke-width="1.15"/>
<line x1="414.96" y1="147.3" x2="414.96" y2="151.5" stroke-width="1.15"/>
<line x1="455.01" y1="291.2" x2="455.01" y2="287" stroke-width="1.15"/>
<line x1="455.01" y1="147.3" x2="455.01" y2="151.5" stroke-width="1.15"/>
<line x1="495.06" y1="291.2" x2="495.06" y2="287" stroke-width="1.15"/>
<line x1="495.06" y1="147.3" x2="495.06" y2="151.5" stroke-width="1.15"/>
<line x1="535.1" y1="291.2" x2="535.1" y2="287" stroke-width="1.15"/>
<line x1="535.1" y1="147.3" x2="535.1" y2="151.5" stroke-width="1.15"/>
<line x1="575.15" y1="291.2" x2="575.15" y2="287" stroke-width="1.15"/>
<line x1="575.15" y1="147.3" x2="575.15" y2="151.5" stroke-width="1.15"/>
<line x1="615.2" y1="291.2" x2="615.2" y2="287" stroke-width="1.15"/>
<line x1="615.2" y1="147.3" x2="615.2" y2="151.5" stroke-width="1.15"/>
<line x1="655.25" y1="291.2" x2="655.25" y2="287" stroke-width="1.15"/>
<line x1="655.25" y1="147.3" x2="655.25" y2="151.5" stroke-width="1.15"/>
<line x1="366.9" y1="283.63" x2="369.3" y2="283.63" stroke-width="1.05"/>
<line x1="695.3" y1="283.63" x2="692.9" y2="283.63" stroke-width="1.05"/>
<line x1="366.9" y1="276.05" x2="369.3" y2="276.05" stroke-width="1.05"/>
<line x1="695.3" y1="276.05" x2="692.9" y2="276.05" stroke-width="1.05"/>
<line x1="366.9" y1="268.48" x2="369.3" y2="268.48" stroke-width="1.05"/>
<line x1="695.3" y1="268.48" x2="692.9" y2="268.48" stroke-width="1.05"/>
<line x1="366.9" y1="260.91" x2="369.3" y2="260.91" stroke-width="1.05"/>
<line x1="695.3" y1="260.91" x2="692.9" y2="260.91" stroke-width="1.05"/>
<line x1="366.9" y1="245.76" x2="369.3" y2="245.76" stroke-width="1.05"/>
<line x1="695.3" y1="245.76" x2="692.9" y2="245.76" stroke-width="1.05"/>
<line x1="366.9" y1="238.18" x2="369.3" y2="238.18" stroke-width="1.05"/>
<line x1="695.3" y1="238.18" x2="692.9" y2="238.18" stroke-width="1.05"/>
<line x1="366.9" y1="230.61" x2="369.3" y2="230.61" stroke-width="1.05"/>
<line x1="695.3" y1="230.61" x2="692.9" y2="230.61" stroke-width="1.05"/>
<line x1="366.9" y1="223.04" x2="369.3" y2="223.04" stroke-width="1.05"/>
<line x1="695.3" y1="223.04" x2="692.9" y2="223.04" stroke-width="1.05"/>
<line x1="366.9" y1="207.89" x2="369.3" y2="207.89" stroke-width="1.05"/>
<line x1="695.3" y1="207.89" x2="692.9" y2="207.89" stroke-width="1.05"/>
<line x1="366.9" y1="200.32" x2="369.3" y2="200.32" stroke-width="1.05"/>
<line x1="695.3" y1="200.32" x2="692.9" y2="200.32" stroke-width="1.05"/>
<line x1="366.9" y1="192.74" x2="369.3" y2="192.74" stroke-width="1.05"/>
<line x1="695.3" y1="192.74" x2="692.9" y2="192.74" stroke-width="1.05"/>
<line x1="366.9" y1="185.17" x2="369.3" y2="185.17" stroke-width="1.05"/>
<line x1="695.3" y1="185.17" x2="692.9" y2="185.17" stroke-width="1.05"/>
<line x1="366.9" y1="170.02" x2="369.3" y2="170.02" stroke-width="1.05"/>
<line x1="695.3" y1="170.02" x2="692.9" y2="170.02" stroke-width="1.05"/>
<line x1="366.9" y1="162.45" x2="369.3" y2="162.45" stroke-width="1.05"/>
<line x1="695.3" y1="162.45" x2="692.9" y2="162.45" stroke-width="1.05"/>
<line x1="366.9" y1="154.87" x2="369.3" y2="154.87" stroke-width="1.05"/>
<line x1="695.3" y1="154.87" x2="692.9" y2="154.87" stroke-width="1.05"/>
<line x1="366.9" y1="253.33" x2="371.1" y2="253.33" stroke-width="1.15"/>
<line x1="695.3" y1="253.33" x2="691.1" y2="253.33" stroke-width="1.15"/>
<line x1="366.9" y1="215.46" x2="371.1" y2="215.46" stroke-width="1.15"/>
<line x1="695.3" y1="215.46" x2="691.1" y2="215.46" stroke-width="1.15"/>
<line x1="366.9" y1="177.59" x2="371.1" y2="177.59" stroke-width="1.15"/>
<line x1="695.3" y1="177.59" x2="691.1" y2="177.59" stroke-width="1.15"/>
<line x1="52.47" y1="435" x2="52.47" y2="432.6" stroke-width="1.05"/>
<line x1="52.47" y1="291.2" x2="52.47" y2="293.6" stroke-width="1.05"/>
<line x1="66.45" y1="435" x2="66.45" y2="432.6" stroke-width="1.05"/>
<line x1="66.45" y1="291.2" x2="66.45" y2="293.6" stroke-width="1.05"/>
<line x1="80.42" y1="435" x2="80.42" y2="432.6" stroke-width="1.05"/>
<line x1="80.42" y1="291.2" x2="80.42" y2="293.6" stroke-width="1.05"/>
<line x1="94.4" y1="435" x2="94.4" y2="432.6" stroke-width="1.05"/>
<line x1="94.4" y1="291.2" x2="94.4" y2="293.6" stroke-width="1.05"/>
<line x1="122.35" y1="435" x2="122.35" y2="432.6" stroke-width="1.05"/>
<line x1="122.35" y1="291.2" x2="122.35" y2="293.6" stroke-width="1.05"/>
<line x1="136.32" y1="435" x2="136.32" y2="432.6" stroke-width="1.05"/>
<line x1="136.32" y1="291.2" x2="136.32" y2="293.6" stroke-width="1.05"/>
<line x1="150.3" y1="435" x2="150.3" y2="432.6" stroke-width="1.05"/>
<line x1="150.3" y1="291.2" x2="150.3" y2="293.6" stroke-width="1.05"/>
<line x1="164.27" y1="435" x2="164.27" y2="432.6" stroke-width="1.05"/>
<line x1="164.27" y1="291.2" x2="164.27" y2="293.6" stroke-width="1.05"/>
<line x1="192.22" y1="435" x2="192.22" y2="432.6" stroke-width="1.05"/>
<line x1="192.22" y1="291.2" x2="192.22" y2="293.6" stroke-width="1.05"/>
<line x1="206.19" y1="435" x2="206.19" y2="432.6" stroke-width="1.05"/>
<line x1="206.19" y1="291.2" x2="206.19" y2="293.6" stroke-width="1.05"/>
<line x1="220.17" y1="435" x2="220.17" y2="432.6" stroke-width="1.05"/>
<line x1="220.17" y1="291.2" x2="220.17" y2="293.6" stroke-width="1.05"/>
<line x1="234.14" y1="435" x2="234.14" y2="432.6" stroke-width="1.05"/>
<line x1="234.14" y1="291.2" x2="234.14" y2="293.6" stroke-width="1.05"/>
<line x1="262.09" y1="435" x2="262.09" y2="432.6" stroke-width="1.05"/>
<line x1="262.09" y1="291.2" x2="262.09" y2="293.6" stroke-width="1.05"/>
<line x1="276.07" y1="435" x2="276.07" y2="432.6" stroke-width="1.05"/>
<line x1="276.07" y1="291.2" x2="276.07" y2="293.6" stroke-width="1.05"/>
<line x1="290.04" y1="435" x2="290.04" y2="432.6" stroke-width="1.05"/>
<line x1="290.04" y1="291.2" x2="290.04" y2="293.6" stroke-width="1.05"/>
<line x1="304.01" y1="435" x2="304.01" y2="432.6" stroke-width="1.05"/>
<line x1="304.01" y1="291.2" x2="304.01" y2="293.6" stroke-width="1.05"/>
<line x1="331.96" y1="435" x2="331.96" y2="432.6" stroke-width="1.05"/>
<line x1="331.96" y1="291.2" x2="331.96" y2="293.6" stroke-width="1.05"/>
<line x1="345.94" y1="435" x2="345.94" y2="432.6" stroke-width="1.05"/>
<line x1="345.94" y1="291.2" x2="345.94" y2="293.6" stroke-width="1.05"/>
<line x1="359.91" y1="435" x2="359.91" y2="432.6" stroke-width="1.05"/>
<line x1="359.91" y1="291.2" x2="359.91" y2="293.6" stroke-width="1.05"/>
<line x1="108.37" y1="435" x2="108.37" y2="430.8" stroke-width="1.15"/>
<line x1="108.37" y1="291.2" x2="108.37" y2="295.4" stroke-width="1.15"/>
<line x1="178.24" y1="435" x2="178.24" y2="430.8" stroke-width="1.15"/>
<line x1="178.24" y1="291.2" x2="178.24" y2="295.4" stroke-width="1.15"/>
<line x1="248.12" y1="435" x2="248.12" y2="430.8" stroke-width="1.15"/>
<line x1="248.12" y1="291.2" x2="248.12" y2="295.4" stroke-width="1.15"/>
<line x1="317.99" y1="435" x2="317.99" y2="430.8" stroke-width="1.15"/>
<line x1="317.99" y1="291.2" x2="317.99" y2="295.4" stroke-width="1.15"/>
<line x1="38.5" y1="427.43" x2="40.9" y2="427.43" stroke-width="1.05"/>
<line x1="366.9" y1="427.43" x2="364.5" y2="427.43" stroke-width="1.05"/>
<line x1="38.5" y1="419.86" x2="40.9" y2="419.86" stroke-width="1.05"/>
<line x1="366.9" y1="419.86" x2="364.5" y2="419.86" stroke-width="1.05"/>
<line x1="38.5" y1="412.29" x2="40.9" y2="412.29" stroke-width="1.05"/>
<line x1="366.9" y1="412.29" x2="364.5" y2="412.29" stroke-width="1.05"/>
<line x1="38.5" y1="404.73" x2="40.9" y2="404.73" stroke-width="1.05"/>
<line x1="366.9" y1="404.73" x2="364.5" y2="404.73" stroke-width="1.05"/>
<line x1="38.5" y1="389.59" x2="40.9" y2="389.59" stroke-width="1.05"/>
<line x1="366.9" y1="389.59" x2="364.5" y2="389.59" stroke-width="1.05"/>
<line x1="38.5" y1="382.02" x2="40.9" y2="382.02" stroke-width="1.05"/>
<line x1="366.9" y1="382.02" x2="364.5" y2="382.02" stroke-width="1.05"/>
<line x1="38.5" y1="374.45" x2="40.9" y2="374.45" stroke-width="1.05"/>
<line x1="366.9" y1="374.45" x2="364.5" y2="374.45" stroke-width="1.05"/>
<line x1="38.5" y1="366.88" x2="40.9" y2="366.88" stroke-width="1.05"/>
<line x1="366.9" y1="366.88" x2="364.5" y2="366.88" stroke-width="1.05"/>
<line x1="38.5" y1="351.75" x2="40.9" y2="351.75" stroke-width="1.05"/>
<line x1="366.9" y1="351.75" x2="364.5" y2="351.75" stroke-width="1.05"/>
<line x1="38.5" y1="344.18" x2="40.9" y2="344.18" stroke-width="1.05"/>
<line x1="366.9" y1="344.18" x2="364.5" y2="344.18" stroke-width="1.05"/>
<line x1="38.5" y1="336.61" x2="40.9" y2="336.61" stroke-width="1.05"/>
<line x1="366.9" y1="336.61" x2="364.5" y2="336.61" stroke-width="1.05"/>
<line x1="38.5" y1="329.04" x2="40.9" y2="329.04" stroke-width="1.05"/>
<line x1="366.9" y1="329.04" x2="364.5" y2="329.04" stroke-width="1.05"/>
<line x1="38.5" y1="313.91" x2="40.9" y2="313.91" stroke-width="1.05"/>
<line x1="366.9" y1="313.91" x2="364.5" y2="313.91" stroke-width="1.05"/>
<line x1="38.5" y1="306.34" x2="40.9" y2="306.34" stroke-width="1.05"/>
<line x1="366.9" y1="306.34" x2="364.5" y2="306.34" stroke-width="1.05"/>
<line x1="38.5" y1="298.77" x2="40.9" y2="298.77" stroke-width="1.05"/>
<line x1="366.9" y1="298.77" x2="364.5" y2="298.77" stroke-width="1.05"/>
<line x1="38.5" y1="397.16" x2="42.7" y2="397.16" stroke-width="1.15"/>
<line x1="366.9" y1="397.16" x2="362.7" y2="397.16" stroke-width="1.15"/>
<line x1="38.5" y1="359.32" x2="42.7" y2="359.32" stroke-width="1.15"/>
<line x1="366.9" y1="359.32" x2="362.7" y2="359.32" stroke-width="1.15"/>
<line x1="38.5" y1="321.47" x2="42.7" y2="321.47" stroke-width="1.15"/>
<line x1="366.9" y1="321.47" x2="362.7" y2="321.47" stroke-width="1.15"/>
<line x1="382.92" y1="435" x2="382.92" y2="432.6" stroke-width="1.05"/>
<line x1="382.92" y1="291.2" x2="382.92" y2="293.6" stroke-width="1.05"/>
<line x1="390.93" y1="435" x2="390.93" y2="432.6" stroke-width="1.05"/>
<line x1="390.93" y1="291.2" x2="390.93" y2="293.6" stroke-width="1.05"/>
<line x1="398.94" y1="435" x2="398.94" y2="432.6" stroke-width="1.05"/>
<line x1="398.94" y1="291.2" x2="398.94" y2="293.6" stroke-width="1.05"/>
<line x1="406.95" y1="435" x2="406.95" y2="432.6" stroke-width="1.05"/>
<line x1="406.95" y1="291.2" x2="406.95" y2="293.6" stroke-width="1.05"/>
<line x1="422.97" y1="435" x2="422.97" y2="432.6" stroke-width="1.05"/>
<line x1="422.97" y1="291.2" x2="422.97" y2="293.6" stroke-width="1.05"/>
<line x1="430.98" y1="435" x2="430.98" y2="432.6" stroke-width="1.05"/>
<line x1="430.98" y1="291.2" x2="430.98" y2="293.6" stroke-width="1.05"/>
<line x1="438.99" y1="435" x2="438.99" y2="432.6" stroke-width="1.05"/>
<line x1="438.99" y1="291.2" x2="438.99" y2="293.6" stroke-width="1.05"/>
<line x1="447" y1="435" x2="447" y2="432.6" stroke-width="1.05"/>
<line x1="447" y1="291.2" x2="447" y2="293.6" stroke-width="1.05"/>
<line x1="463.02" y1="435" x2="463.02" y2="432.6" stroke-width="1.05"/>
<line x1="463.02" y1="291.2" x2="463.02" y2="293.6" stroke-width="1.05"/>
<line x1="471.03" y1="435" x2="471.03" y2="432.6" stroke-width="1.05"/>
<line x1="471.03" y1="291.2" x2="471.03" y2="293.6" stroke-width="1.05"/>
<line x1="479.04" y1="435" x2="479.04" y2="432.6" stroke-width="1.05"/>
<line x1="479.04" y1="291.2" x2="479.04" y2="293.6" stroke-width="1.05"/>
<line x1="487.05" y1="435" x2="487.05" y2="432.6" stroke-width="1.05"/>
<line x1="487.05" y1="291.2" x2="487.05" y2="293.6" stroke-width="1.05"/>
<line x1="503.07" y1="435" x2="503.07" y2="432.6" stroke-width="1.05"/>
<line x1="503.07" y1="291.2" x2="503.07" y2="293.6" stroke-width="1.05"/>
<line x1="511.08" y1="435" x2="511.08" y2="432.6" stroke-width="1.05"/>
<line x1="511.08" y1="291.2" x2="511.08" y2="293.6" stroke-width="1.05"/>
<line x1="519.09" y1="435" x2="519.09" y2="432.6" stroke-width="1.05"/>
<line x1="519.09" y1="291.2" x2="519.09" y2="293.6" stroke-width="1.05"/>
<line x1="527.1" y1="435" x2="527.1" y2="432.6" stroke-width="1.05"/>
<line x1="527.1" y1="291.2" x2="527.1" y2="293.6" stroke-width="1.05"/>
<line x1="543.11" y1="435" x2="543.11" y2="432.6" stroke-width="1.05"/>
<line x1="543.11" y1="291.2" x2="543.11" y2="293.6" stroke-width="1.05"/>
<line x1="551.12" y1="435" x2="551.12" y2="432.6" stroke-width="1.05"/>
<line x1="551.12" y1="291.2" x2="551.12" y2="293.6" stroke-width="1.05"/>
<line x1="559.13" y1="435" x2="559.13" y2="432.6" stroke-width="1.05"/>
<line x1="559.13" y1="291.2" x2="559.13" y2="293.6" stroke-width="1.05"/>
<line x1="567.14" y1="435" x2="567.14" y2="432.6" stroke-width="1.05"/>
<line x1="567.14" y1="291.2" x2="567.14" y2="293.6" stroke-width="1.05"/>
<line x1="583.16" y1="435" x2="583.16" y2="432.6" stroke-width="1.05"/>
<line x1="583.16" y1="291.2" x2="583.16" y2="293.6" stroke-width="1.05"/>
<line x1="591.17" y1="435" x2="591.17" y2="432.6" stroke-width="1.05"/>
<line x1="591.17" y1="291.2" x2="591.17" y2="293.6" stroke-width="1.05"/>
<line x1="599.18" y1="435" x2="599.18" y2="432.6" stroke-width="1.05"/>
<line x1="599.18" y1="291.2" x2="599.18" y2="293.6" stroke-width="1.05"/>
<line x1="607.19" y1="435" x2="607.19" y2="432.6" stroke-width="1.05"/>
<line x1="607.19" y1="291.2" x2="607.19" y2="293.6" stroke-width="1.05"/>
<line x1="623.21" y1="435" x2="623.21" y2="432.6" stroke-width="1.05"/>
<line x1="623.21" y1="291.2" x2="623.21" y2="293.6" stroke-width="1.05"/>
<line x1="631.22" y1="435" x2="631.22" y2="432.6" stroke-width="1.05"/>
<line x1="631.22" y1="291.2" x2="631.22" y2="293.6" stroke-width="1.05"/>
<line x1="639.23" y1="435" x2="639.23" y2="432.6" stroke-width="1.05"/>
<line x1="639.23" y1="291.2" x2="639.23" y2="293.6" stroke-width="1.05"/>
<line x1="647.24" y1="435" x2="647.24" y2="432.6" stroke-width="1.05"/>
<line x1="647.24" y1="291.2" x2="647.24" y2="293.6" stroke-width="1.05"/>
<line x1="663.26" y1="435" x2="663.26" y2="432.6" stroke-width="1.05"/>
<line x1="663.26" y1="291.2" x2="663.26" y2="293.6" stroke-width="1.05"/>
<line x1="671.27" y1="435" x2="671.27" y2="432.6" stroke-width="1.05"/>
<line x1="671.27" y1="291.2" x2="671.27" y2="293.6" stroke-width="1.05"/>
<line x1="679.28" y1="435" x2="679.28" y2="432.6" stroke-width="1.05"/>
<line x1="679.28" y1="291.2" x2="679.28" y2="293.6" stroke-width="1.05"/>
<line x1="687.29" y1="435" x2="687.29" y2="432.6" stroke-width="1.05"/>
<line x1="687.29" y1="291.2" x2="687.29" y2="293.6" stroke-width="1.05"/>
<line x1="374.91" y1="435" x2="374.91" y2="430.8" stroke-width="1.15"/>
<line x1="374.91" y1="291.2" x2="374.91" y2="295.4" stroke-width="1.15"/>
<line x1="414.96" y1="435" x2="414.96" y2="430.8" stroke-width="1.15"/>
<line x1="414.96" y1="291.2" x2="414.96" y2="295.4" stroke-width="1.15"/>
<line x1="455.01" y1="435" x2="455.01" y2="430.8" stroke-width="1.15"/>
<line x1="455.01" y1="291.2" x2="455.01" y2="295.4" stroke-width="1.15"/>
<line x1="495.06" y1="435" x2="495.06" y2="430.8" stroke-width="1.15"/>
<line x1="495.06" y1="291.2" x2="495.06" y2="295.4" stroke-width="1.15"/>
<line x1="535.1" y1="435" x2="535.1" y2="430.8" stroke-width="1.15"/>
<line x1="535.1" y1="291.2" x2="535.1" y2="295.4" stroke-width="1.15"/>
<line x1="575.15" y1="435" x2="575.15" y2="430.8" stroke-width="1.15"/>
<line x1="575.15" y1="291.2" x2="575.15" y2="295.4" stroke-width="1.15"/>
<line x1="615.2" y1="435" x2="615.2" y2="430.8" stroke-width="1.15"/>
<line x1="615.2" y1="291.2" x2="615.2" y2="295.4" stroke-width="1.15"/>
<line x1="655.25" y1="435" x2="655.25" y2="430.8" stroke-width="1.15"/>
<line x1="655.25" y1="291.2" x2="655.25" y2="295.4" stroke-width="1.15"/>
<line x1="366.9" y1="427.43" x2="369.3" y2="427.43" stroke-width="1.05"/>
<line x1="695.3" y1="427.43" x2="692.9" y2="427.43" stroke-width="1.05"/>
<line x1="366.9" y1="419.86" x2="369.3" y2="419.86" stroke-width="1.05"/>
<line x1="695.3" y1="419.86" x2="692.9" y2="419.86" stroke-width="1.05"/>
<line x1="366.9" y1="412.29" x2="369.3" y2="412.29" stroke-width="1.05"/>
<line x1="695.3" y1="412.29" x2="692.9" y2="412.29" stroke-width="1.05"/>
<line x1="366.9" y1="404.73" x2="369.3" y2="404.73" stroke-width="1.05"/>
<line x1="695.3" y1="404.73" x2="692.9" y2="404.73" stroke-width="1.05"/>
<line x1="366.9" y1="389.59" x2="369.3" y2="389.59" stroke-width="1.05"/>
<line x1="695.3" y1="389.59" x2="692.9" y2="389.59" stroke-width="1.05"/>
<line x1="366.9" y1="382.02" x2="369.3" y2="382.02" stroke-width="1.05"/>
<line x1="695.3" y1="382.02" x2="692.9" y2="382.02" stroke-width="1.05"/>
<line x1="366.9" y1="374.45" x2="369.3" y2="374.45" stroke-width="1.05"/>
<line x1="695.3" y1="374.45" x2="692.9" y2="374.45" stroke-width="1.05"/>
<line x1="366.9" y1="366.88" x2="369.3" y2="366.88" stroke-width="1.05"/>
<line x1="695.3" y1="366.88" x2="692.9" y2="366.88" stroke-width="1.05"/>
<line x1="366.9" y1="351.75" x2="369.3" y2="351.75" stroke-width="1.05"/>
<line x1="695.3" y1="351.75" x2="692.9" y2="351.75" stroke-width="1.05"/>
<line x1="366.9" y1="344.18" x2="369.3" y2="344.18" stroke-width="1.05"/>
<line x1="695.3" y1="344.18" x2="692.9" y2="344.18" stroke-width="1.05"/>
<line x1="366.9" y1="336.61" x2="369.3" y2="336.61" stroke-width="1.05"/>
<line x1="695.3" y1="336.61" x2="692.9" y2="336.61" stroke-width="1.05"/>
<line x1="366.9" y1="329.04" x2="369.3" y2="329.04" stroke-width="1.05"/>
<line x1="695.3" y1="329.04" x2="692.9" y2="329.04" stroke-width="1.05"/>
<line x1="366.9" y1="313.91" x2="369.3" y2="313.91" stroke-width="1.05"/>
<line x1="695.3" y1="313.91" x2="692.9" y2="313.91" stroke-width="1.05"/>
<line x1="366.9" y1="306.34" x2="369.3" y2="306.34" stroke-width="1.05"/>
<line x1="695.3" y1="306.34" x2="692.9" y2="306.34" stroke-width="1.05"/>
<line x1="366.9" y1="298.77" x2="369.3" y2="298.77" stroke-width="1.05"/>
<line x1="695.3" y1="298.77" x2="692.9" y2="298.77" stroke-width="1.05"/>
<line x1="366.9" y1="397.16" x2="371.1" y2="397.16" stroke-width="1.15"/>
<line x1="695.3" y1="397.16" x2="691.1" y2="397.16" stroke-width="1.15"/>
<line x1="366.9" y1="359.32" x2="371.1" y2="359.32" stroke-width="1.15"/>
<line x1="695.3" y1="359.32" x2="691.1" y2="359.32" stroke-width="1.15"/>
<line x1="366.9" y1="321.47" x2="371.1" y2="321.47" stroke-width="1.15"/>
<line x1="695.3" y1="321.47" x2="691.1" y2="321.47" stroke-width="1.15"/></g>
<g><line x1="38.5" y1="3.4" x2="695.3" y2="3.4" stroke="#000" stroke-width="1.3" stroke-linecap="square"/>
<line x1="38.5" y1="147.3" x2="695.3" y2="147.3" stroke="#000" stroke-width="1.3" stroke-linecap="square"/>
<line x1="38.5" y1="291.2" x2="695.3" y2="291.2" stroke="#000" stroke-width="1.3" stroke-linecap="square"/>
<line x1="38.5" y1="435" x2="695.3" y2="435" stroke="#000" stroke-width="1.3" stroke-linecap="square"/>
<line x1="38.5" y1="3.4" x2="38.5" y2="435" stroke="#000" stroke-width="1.3" stroke-linecap="square"/>
<line x1="366.9" y1="3.4" x2="366.9" y2="435" stroke="#000" stroke-width="1.3" stroke-linecap="square"/>
<line x1="695.3" y1="3.4" x2="695.3" y2="435" stroke="#000" stroke-width="1.3" stroke-linecap="square"/></g>
<g fill="#111"><rect x="293.5" y="11.95" width="9.2" height="6.5" fill="none" stroke="#1f77b4" stroke-width="1.3" stroke-linejoin="round"/>
<text x="309.9" y="18.75" font-size="10" word-spacing="1" textLength="41.6" lengthAdjust="spacingAndGlyphs">Sample(I)</text>
<rect x="293.5" y="25.65" width="9.2" height="6.5" fill="none" stroke="#ff7f0e" stroke-width="1.3" stroke-linejoin="round"/>
<text x="309.9" y="32.45" font-size="10" word-spacing="1" textLength="44.8" lengthAdjust="spacingAndGlyphs">Sample(II)</text>
<rect x="293.5" y="39.35" width="9.2" height="6.5" fill="none" stroke="#2ca02c" stroke-width="1.3" stroke-linejoin="round"/>
<text x="309.9" y="46.15" font-size="10" word-spacing="1" textLength="48.8" lengthAdjust="spacingAndGlyphs">Sample(III)</text>
<rect x="293.5" y="53.05" width="9.2" height="6.5" fill="none" stroke="#6b6b6b" stroke-width="1.3" stroke-linejoin="round"/>
<text x="309.9" y="59.85" font-size="10" word-spacing="1" textLength="47.7" lengthAdjust="spacingAndGlyphs">Sample(all)</text>
<rect x="285.9" y="155.95" width="9.2" height="6.5" fill="none" stroke="#1f77b4" stroke-width="1.3" stroke-linejoin="round"/>
<text x="302.7" y="162.75" font-size="10" word-spacing="1" textLength="48.2" lengthAdjust="spacingAndGlyphs">CL AGN(I)</text>
<rect x="285.9" y="169.6" width="9.2" height="6.5" fill="none" stroke="#ff7f0e" stroke-width="1.3" stroke-linejoin="round"/>
<text x="302.7" y="176.4" font-size="10" word-spacing="1" textLength="52.2" lengthAdjust="spacingAndGlyphs">CL AGN(II)</text>
<rect x="285.9" y="183.25" width="9.2" height="6.5" fill="none" stroke="#2ca02c" stroke-width="1.3" stroke-linejoin="round"/>
<text x="302.7" y="190.05" font-size="10" word-spacing="1" textLength="56.2" lengthAdjust="spacingAndGlyphs">CL AGN(III)</text>
<rect x="285.9" y="196.9" width="9.2" height="6.5" fill="none" stroke="#6b6b6b" stroke-width="1.3" stroke-linejoin="round"/>
<text x="302.7" y="203.7" font-size="10" word-spacing="1" textLength="55.6" lengthAdjust="spacingAndGlyphs">CL AGN(all)</text>
<rect x="261.7" y="299.75" width="9.2" height="6.5" fill="none" stroke="#00008b" stroke-width="1.3" stroke-linejoin="round"/>
<text x="278.4" y="306.55" font-size="10" word-spacing="1" textLength="78.9" lengthAdjust="spacingAndGlyphs">CL AGN(Turn-on)</text>
<rect x="261.7" y="313.65" width="9.2" height="6.5" fill="none" stroke="#8b0000" stroke-width="1.3" stroke-linejoin="round"/>
<text x="278.4" y="320.45" font-size="10" word-spacing="1" textLength="80.2" lengthAdjust="spacingAndGlyphs">CL AGN(Turn-off)</text>
<rect x="621.9" y="11.95" width="9.2" height="6.5" fill="none" stroke="#1f77b4" stroke-width="1.3" stroke-linejoin="round"/>
<text x="638.3" y="18.75" font-size="10" word-spacing="1" textLength="41.6" lengthAdjust="spacingAndGlyphs">Sample(I)</text>
<rect x="621.9" y="25.65" width="9.2" height="6.5" fill="none" stroke="#ff7f0e" stroke-width="1.3" stroke-linejoin="round"/>
<text x="638.3" y="32.45" font-size="10" word-spacing="1" textLength="44.8" lengthAdjust="spacingAndGlyphs">Sample(II)</text>
<rect x="621.9" y="39.35" width="9.2" height="6.5" fill="none" stroke="#2ca02c" stroke-width="1.3" stroke-linejoin="round"/>
<text x="638.3" y="46.15" font-size="10" word-spacing="1" textLength="48.8" lengthAdjust="spacingAndGlyphs">Sample(III)</text>
<rect x="621.9" y="53.05" width="9.2" height="6.5" fill="none" stroke="#6b6b6b" stroke-width="1.3" stroke-linejoin="round"/>
<text x="638.3" y="59.85" font-size="10" word-spacing="1" textLength="47.7" lengthAdjust="spacingAndGlyphs">Sample(all)</text>
<rect x="614.3" y="155.95" width="9.2" height="6.5" fill="none" stroke="#1f77b4" stroke-width="1.3" stroke-linejoin="round"/>
<text x="631.1" y="162.75" font-size="10" word-spacing="1" textLength="48.2" lengthAdjust="spacingAndGlyphs">CL AGN(I)</text>
<rect x="614.3" y="169.6" width="9.2" height="6.5" fill="none" stroke="#ff7f0e" stroke-width="1.3" stroke-linejoin="round"/>
<text x="631.1" y="176.4" font-size="10" word-spacing="1" textLength="52.2" lengthAdjust="spacingAndGlyphs">CL AGN(II)</text>
<rect x="614.3" y="183.25" width="9.2" height="6.5" fill="none" stroke="#2ca02c" stroke-width="1.3" stroke-linejoin="round"/>
<text x="631.1" y="190.05" font-size="10" word-spacing="1" textLength="56.2" lengthAdjust="spacingAndGlyphs">CL AGN(III)</text>
<rect x="614.3" y="196.9" width="9.2" height="6.5" fill="none" stroke="#6b6b6b" stroke-width="1.3" stroke-linejoin="round"/>
<text x="631.1" y="203.7" font-size="10" word-spacing="1" textLength="55.6" lengthAdjust="spacingAndGlyphs">CL AGN(all)</text>
<rect x="590.1" y="299.75" width="9.2" height="6.5" fill="none" stroke="#00008b" stroke-width="1.3" stroke-linejoin="round"/>
<text x="606.8" y="306.55" font-size="10" word-spacing="1" textLength="78.9" lengthAdjust="spacingAndGlyphs">CL AGN(Turn-on)</text>
<rect x="590.1" y="313.65" width="9.2" height="6.5" fill="none" stroke="#8b0000" stroke-width="1.3" stroke-linejoin="round"/>
<text x="606.8" y="320.45" font-size="10" word-spacing="1" textLength="80.2" lengthAdjust="spacingAndGlyphs">CL AGN(Turn-off)</text></g>
<g fill="#111"><text x="34.2" y="151.2" text-anchor="end" font-size="10.2">0</text>
<text x="34.2" y="130.64" text-anchor="end" font-size="10.2">1000</text>
<text x="34.2" y="110.09" text-anchor="end" font-size="10.2">2000</text>
<text x="34.2" y="89.53" text-anchor="end" font-size="10.2">3000</text>
<text x="34.2" y="68.97" text-anchor="end" font-size="10.2">4000</text>
<text x="34.2" y="48.41" text-anchor="end" font-size="10.2">5000</text>
<text x="34.2" y="27.86" text-anchor="end" font-size="10.2">6000</text>
<text x="34.2" y="7.3" text-anchor="end" font-size="10.2">7000</text>
<text x="34.2" y="295.1" text-anchor="end" font-size="10.2">0</text>
<text x="34.2" y="257.23" text-anchor="end" font-size="10.2">5</text>
<text x="34.2" y="219.36" text-anchor="end" font-size="10.2">10</text>
<text x="34.2" y="181.49" text-anchor="end" font-size="10.2">15</text>
<text x="34.2" y="438.9" text-anchor="end" font-size="10.2">0</text>
<text x="34.2" y="401.06" text-anchor="end" font-size="10.2">5</text>
<text x="34.2" y="363.22" text-anchor="end" font-size="10.2">10</text>
<text x="34.2" y="325.37" text-anchor="end" font-size="10.2">15</text>
<text x="38.5" y="446.9" text-anchor="middle" font-size="10.2">0</text>
<text x="108.37" y="446.9" text-anchor="middle" font-size="10.2">1</text>
<text x="178.24" y="446.9" text-anchor="middle" font-size="10.2">2</text>
<text x="248.12" y="446.9" text-anchor="middle" font-size="10.2">3</text>
<text x="317.99" y="446.9" text-anchor="middle" font-size="10.2">4</text>
<text x="374.91" y="446.9" text-anchor="middle" font-size="10.2">17</text>
<text x="414.96" y="446.9" text-anchor="middle" font-size="10.2">18</text>
<text x="455.01" y="446.9" text-anchor="middle" font-size="10.2">19</text>
<text x="495.06" y="446.9" text-anchor="middle" font-size="10.2">20</text>
<text x="535.1" y="446.9" text-anchor="middle" font-size="10.2">21</text>
<text x="575.15" y="446.9" text-anchor="middle" font-size="10.2">22</text>
<text x="615.2" y="446.9" text-anchor="middle" font-size="10.2">23</text>
<text x="655.25" y="446.9" text-anchor="middle" font-size="10.2">24</text>
<text x="695.3" y="446.9" text-anchor="middle" font-size="10.2">25</text>
<text x="202.8" y="459.1" text-anchor="middle" font-size="12.6" textLength="44.6" lengthAdjust="spacingAndGlyphs">Redshift</text>
<text x="531.1" y="459.2" text-anchor="middle" font-size="12.6" textLength="107.6" lengthAdjust="spacingAndGlyphs">Magnitude (r-band)</text>
<text transform="translate(8.3,74.6) rotate(-90)" x="0" y="0" text-anchor="middle" font-size="13.5" font-style="italic" textLength="9.6" lengthAdjust="spacingAndGlyphs">N</text>
<text transform="translate(19,218.4) rotate(-90)" x="0" y="0" text-anchor="middle" font-size="13.5" font-style="italic" textLength="9.6" lengthAdjust="spacingAndGlyphs">N</text>
<text transform="translate(19,362.6) rotate(-90)" x="0" y="0" text-anchor="middle" font-size="13.5" font-style="italic" textLength="9.6" lengthAdjust="spacingAndGlyphs">N</text></g>
</svg>
</body></html>
